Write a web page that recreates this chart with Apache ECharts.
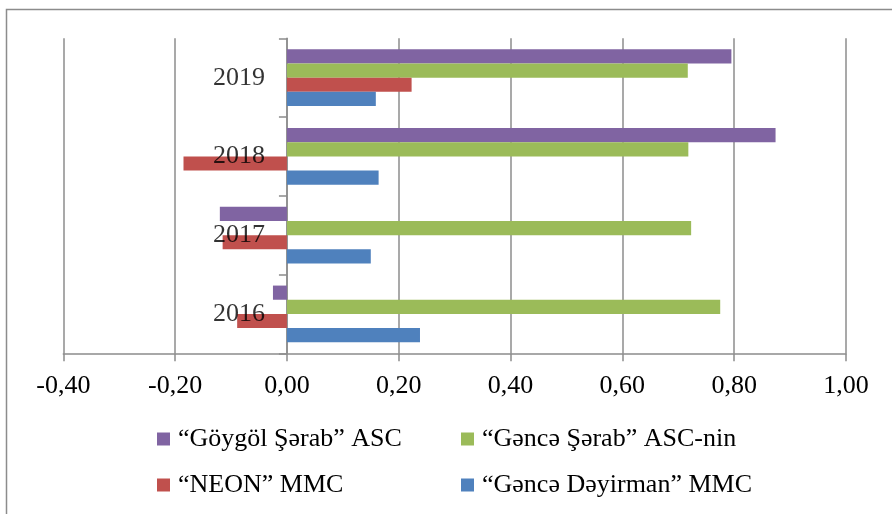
<!DOCTYPE html>
<html>
<head>
<meta charset="utf-8">
<script src="https://cdn.jsdelivr.net/npm/echarts@6/dist/echarts.min.js"></script>
<style>html,body{margin:0;padding:0;background:#fff}#c{width:892px;height:514px}</style>
</head>
<body>
<div id="c"></div>
<script>
const categories = ['2016', '2017', '2018', '2019'];
const seriesNames = ['“Göygöl Şərab” ASC', '“Gəncə Şərab” ASC-nin', '“NEON” MMC', '“Gəncə Dəyirman” MMC'];
const goygol = [-0.025, -0.120, 0.874, 0.795];
const genceSerab = [0.775, 0.723, 0.718, 0.717];
const neon = [-0.089, -0.115, -0.185, 0.223];
const genceDeyirman = [0.238, 0.150, 0.164, 0.159];
const colors = ['#8064A2', '#9BBB59', '#C0504D', '#4F81BD'];
const values = [goygol, genceSerab, neon, genceDeyirman];

const FONT = "'Liberation Serif', 'Times New Roman', serif";
const chart = echarts.init(document.getElementById('c'), null, {renderer: 'canvas'});

const legendPos = [
  {left: 157, top: 426},
  {left: 461, top: 426},
  {left: 157, top: 472},
  {left: 461, top: 472}
];

const series = seriesNames.map((n, i) => ({
  name: n, type: 'bar', data: values[i],
  barGap: '0%', barCategoryGap: '28%',
  itemStyle: {color: colors[i]}
}));
// category labels drawn next to the zero line (axis crosses at 0)
series.push({
  type: 'scatter', name: 'cat-labels', silent: true,
  symbolSize: 0, z: 5,
  data: categories.map(c => [0, c]),
  label: {show: true, position: 'left', distance: 22, formatter: p => p.value[1],
    fontFamily: FONT, fontSize: 26, color: '#000'}
});

const option = {
  animation: false,
  backgroundColor: '#fff',
  graphic: [{
    type: 'rect', shape: {x: 6.5, y: 9.5, width: 1000, height: 600},
    style: {fill: 'none', stroke: '#8c8c8c', lineWidth: 1.5}, silent: true, z: -1
  }],
  grid: {left: 63.3, right: 46, top: 38.3, bottom: 160.7, containLabel: false, outerBoundsMode: 'none'},
  legend: legendPos.map((p, i) => ({
    data: [seriesNames[i]], left: p.left, top: p.top, padding: 0,
    itemWidth: 13, itemHeight: 13, icon: 'rect',
    textStyle: {fontFamily: FONT, fontSize: 26, color: '#000', padding: [0, 0, 0, 3]}
  })),
  xAxis: {
    type: 'value', min: -0.4, max: 1.0, interval: 0.2,
    axisLine: {show: true, lineStyle: {color: '#8c8c8c', width: 1.5}},
    axisTick: {show: true, length: 8, lineStyle: {color: '#8c8c8c', width: 1.5}},
    splitLine: {show: true, lineStyle: {color: '#8c8c8c', width: 1.5}},
    axisLabel: {fontFamily: FONT, fontSize: 26, color: '#000', margin: 20,
      formatter: v => v.toFixed(2).replace('.', ',')}
  },
  yAxis: {
    type: 'category', data: categories,
    axisLine: {show: true, onZero: true, lineStyle: {color: '#8c8c8c', width: 1.5}},
    axisTick: {show: true, length: 8, lineStyle: {color: '#8c8c8c', width: 1.5}},
    splitLine: {show: false},
    axisLabel: {show: false}
  },
  series: series
};
chart.setOption(option);
</script>
</body>
</html>
